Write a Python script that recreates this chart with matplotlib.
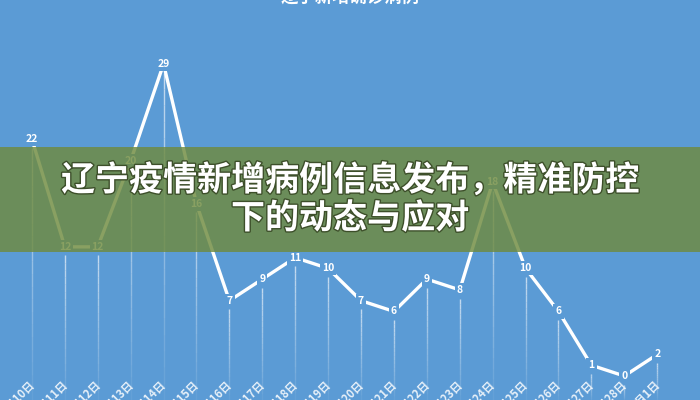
import matplotlib
matplotlib.use("Agg")
import matplotlib.pyplot as plt
import matplotlib.patheffects as pe
from matplotlib.patches import Rectangle

plt.rcParams['font.family'] = ['Noto Sans CJK SC', 'DejaVu Sans']

dates = ["2月10日", "2月11日", "2月12日", "2月13日", "2月14日", "2月15日", "2月16日",
         "2月17日", "2月18日", "2月19日", "2月20日", "2月21日", "2月22日", "2月23日",
         "2月24日", "2月25日", "2月26日", "2月27日", "2月28日", "3月1日"]
cases = [22, 12, 12, 20, 29, 16, 7, 9, 11, 10, 7, 6, 9, 8, 18, 10, 6, 1, 0, 2]
chart_title = "辽宁新增确诊病例"
banner_lines = ["辽宁疫情新增病例信息发布，精准防控", "下的动态与应对"]

BG = "#5B9BD5"
W, H = 700, 400
fig = plt.figure(figsize=(7, 4), dpi=100, facecolor=BG)
ax = fig.add_axes([0, 0, 1, 1])
ax.set_facecolor(BG)
for s in ax.spines.values():
    s.set_visible(False)
ax.set_xticks([])
ax.set_yticks([])

ymin, ymax = -2.23, 34.94
ax.set_xlim(-0.97, 20.3)
ax.set_ylim(ymin, ymax)

xs = list(range(len(cases)))

# drop lines with fading
nseg = 20
for x, v in zip(xs, cases):
    top = v - 0.8
    if top <= ymin:
        continue
    step = (top - ymin) / nseg
    for k in range(nseg):
        y0 = top - k * step
        y1 = y0 - step
        a = 0.6 * (1 - k / nseg) + 0.03
        ax.plot([x, x], [y0, y1], color="white", lw=1.0, alpha=a,
                solid_capstyle="butt", zorder=1)

ax.plot(xs, cases, color="white", lw=2.4, zorder=2, solid_capstyle="butt")

for x, v in zip(xs, cases):
    ax.text(x, v, str(v), color="white", fontsize=7.5, fontweight="bold",
            ha="center", va="center", zorder=3,
            bbox=dict(boxstyle="square,pad=0.2", facecolor=BG, edgecolor="none"))

# x labels (rotated, partially clipped at the bottom edge)
y_lab = (H - 383) / H * (ymax - ymin) + ymin
for x, d in zip(xs, dates):
    ax.text(x + 0.03, y_lab, d, color="white", fontsize=8, fontweight="bold",
            rotation=45, rotation_mode="anchor", ha="right", va="center",
            alpha=0.85, zorder=3)

# title clipped at top
fig.text(0.5, 1 + 3.0 / H, chart_title, color="white", fontsize=12.5,
         fontweight="bold", ha="center", va="center")

# banner overlay
band_top, band_bot = 147, 252
fig.patches.append(Rectangle((0, 1 - band_bot / H), 1, (band_bot - band_top) / H,
                             transform=fig.transFigure, facecolor="#6F8B3F",
                             alpha=0.82, edgecolor="none", zorder=5))
effects = [pe.withStroke(linewidth=2.0, foreground="#3D4F2A")]
fig.text(0.5, 1 - 180 / H, banner_lines[0], color="white", fontsize=24.5,
         fontweight="bold", ha="center", va="center", zorder=6,
         path_effects=effects)
fig.text(0.5, 1 - 218 / H, banner_lines[1], color="white", fontsize=24.5,
         fontweight="bold", ha="center", va="center", zorder=6,
         path_effects=effects)

fig.savefig("out.png", dpi=100, facecolor=BG)
